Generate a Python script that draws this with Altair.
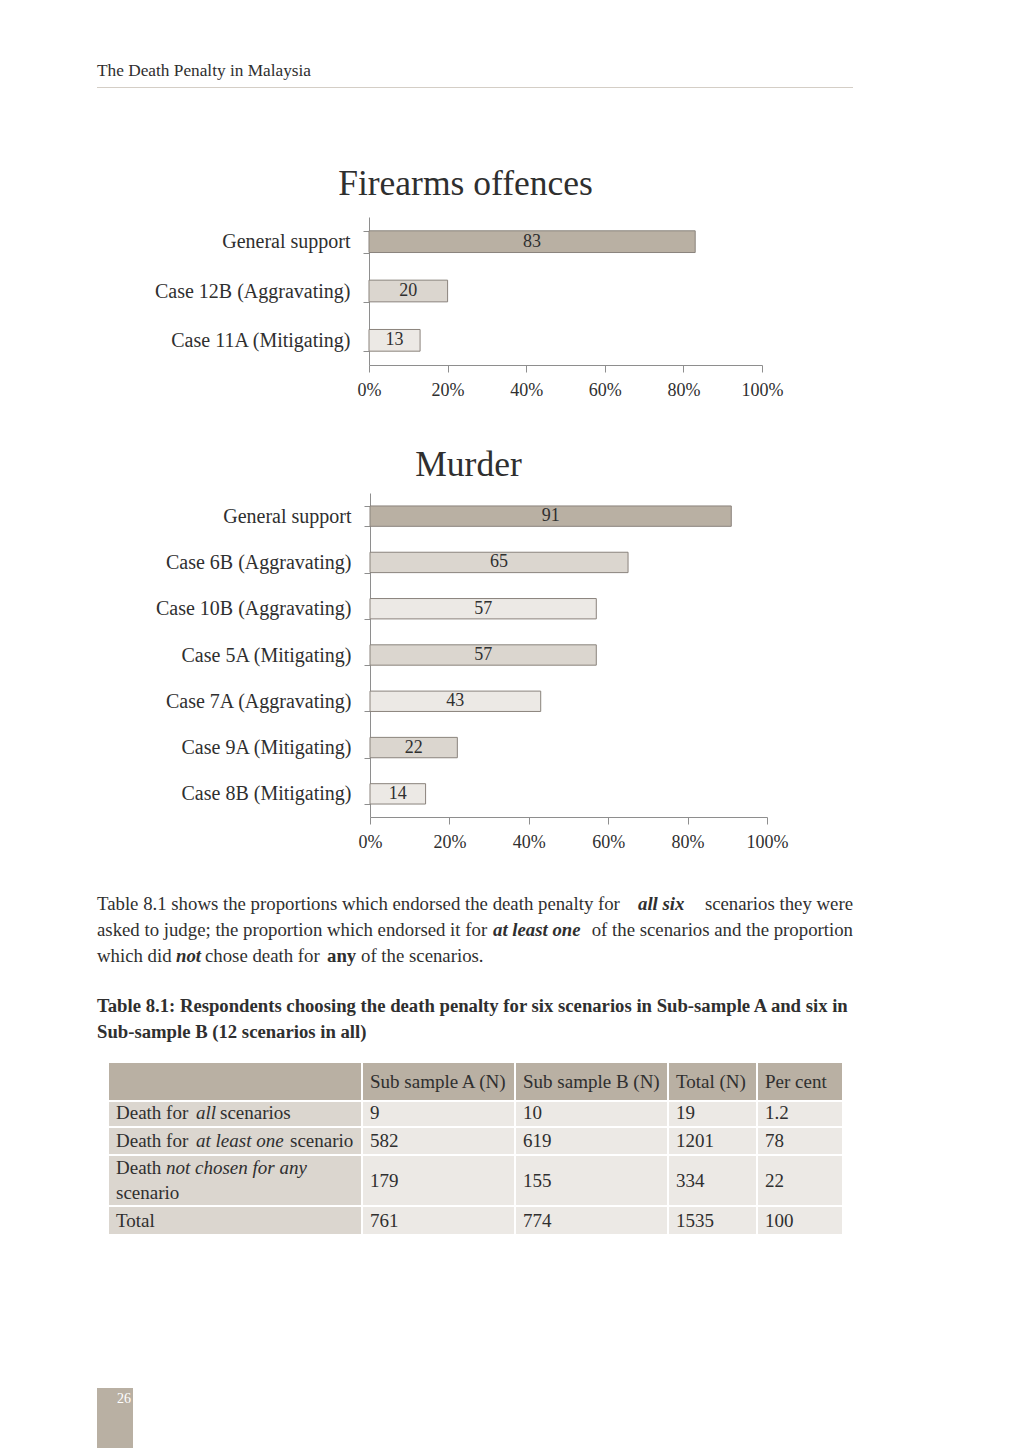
import altair as alt
import pandas as pd

FONT = "Liberation Serif"
TXT = "#2f2f2f"
AX = "#8e8e8e"
STROKE = "#8a837c"
W = 1008

# ---------------- data ----------------
firearms_cats = ["General support", "Case 12B (Aggravating)", "Case 11A (Mitigating)"]
firearms_vals = [83, 20, 13]
firearms_shade = ["dark", "mid", "light"]

murder_cats = ["General support", "Case 6B (Aggravating)", "Case 10B (Aggravating)",
               "Case 5A (Mitigating)", "Case 7A (Aggravating)", "Case 9A (Mitigating)",
               "Case 8B (Mitigating)"]
murder_vals = [91, 65, 57, 57, 43, 22, 14]
murder_shade = ["dark", "mid", "light", "mid", "light", "mid", "light"]

x_ticks = [0, 20, 40, 60, 80, 100]
shade_names = ["dark", "mid", "light"]
shade_colors = ["#b9b0a3", "#dbd6cf", "#ece9e5"]

table_headers = ["", "Sub sample A (N)", "Sub sample B (N)", "Total (N)", "Per cent"]
table_sub_a = ["9", "582", "179", "761"]
table_sub_b = ["10", "619", "155", "774"]
table_total = ["19", "1201", "334", "1535"]
table_percent = ["1.2", "78", "22", "100"]


# ---------------- helpers ----------------
def blank(w, h):
    return alt.Chart(pd.DataFrame({"v": [0]})).mark_point(opacity=0).encode(
        x=alt.X("v:Q", axis=None), y=alt.Y("v:Q", axis=None)
    ).properties(width=w, height=h)


def bar_panel(cats, vals, shades, title, w, h, title_offset, title_dx):
    df = pd.DataFrame({"cat": cats, "val": vals, "shade": shades})
    base = alt.Chart(df)
    y_axis = alt.Axis(tickBand="extent", domainColor=AX, tickColor=AX, tickSize=6,
                      labelFont=FONT, labelFontSize=20, labelColor=TXT,
                      labelPadding=13, labelLimit=400, grid=False)
    x_axis = alt.Axis(values=x_ticks, labelExpr="datum.value + '%'", grid=False,
                      domainColor=AX, tickColor=AX, tickSize=7, labelFont=FONT,
                      labelFontSize=18, labelColor=TXT, labelPadding=9, labelFlush=False)
    yscale = alt.Scale(paddingInner=0.56, paddingOuter=0.28)
    bars = base.mark_bar(stroke=STROKE, strokeWidth=1).encode(
        x=alt.X("val:Q", title=None, scale=alt.Scale(domain=[0, 100], nice=False), axis=x_axis),
        y=alt.Y("cat:N", sort=cats, title=None, scale=yscale, axis=y_axis),
        color=alt.Color("shade:N", scale=alt.Scale(domain=shade_names, range=shade_colors), legend=None),
    )
    labels = base.transform_calculate(mid="datum.val / 2").mark_text(
        font=FONT, fontSize=18, color=TXT, baseline="middle"
    ).encode(
        x=alt.X("mid:Q", title=None),
        y=alt.Y("cat:N", sort=cats, title=None),
        text=alt.Text("val:Q"),
    )
    return alt.layer(bars, labels).properties(
        width=w, height=h,
        title=alt.TitleParams(title, font=FONT, fontSize=35.5, fontWeight="normal",
                              color=TXT, offset=title_offset, dx=title_dx, anchor="middle"),
    )


# ---------------- header panel ----------------
header_text = alt.Chart(pd.DataFrame({"t": ["The Death Penalty in Malaysia"]})).mark_text(
    align="left", baseline="alphabetic", font=FONT, fontSize=17.3, color=TXT
).encode(x=alt.value(89), y=alt.value(68), text="t:N")
header_rule = alt.Chart(pd.DataFrame({"a": [0]})).mark_rule(color="#d4cec6", strokeWidth=1).encode(
    x=alt.value(89), x2=alt.value(845), y=alt.value(79.5)
)
header_panel = alt.layer(header_text, header_rule).properties(width=W, height=209)

# ---------------- chart rows ----------------
firearms = bar_panel(firearms_cats, firearms_vals, firearms_shade, "Firearms offences",
                     393, 148, 5, -100)
murder = bar_panel(murder_cats, murder_vals, murder_shade, "Murder", 397, 324, 0, -100)
# nested rows occupy no height in a flush layout; the blank panels below hold their space
row_firearms = alt.hconcat(blank(361, 148), firearms, spacing=0, bounds="flush")
row_murder = alt.hconcat(blank(362, 324), murder, spacing=0, bounds="flush")
gap_after_firearms = blank(W, 148 + 128)
gap_after_murder = blank(W, 324)

# ---------------- bottom panel (text + table) ----------------
BH = 631
OY = 817  # page y of panel top
OX = 8

styles = {
    "p": dict(fontSize=18.8, fontWeight="normal", fontStyle="normal"),
    "pbi": dict(fontSize=18.8, fontWeight="bold", fontStyle="italic"),
    "pb": dict(fontSize=18.8, fontWeight="bold", fontStyle="normal"),
    "h": dict(fontSize=18.7, fontWeight="bold", fontStyle="normal"),
    "t": dict(fontSize=19, fontWeight="normal", fontStyle="normal"),
    "ti": dict(fontSize=19, fontWeight="normal", fontStyle="italic"),
}

# text segments: (text, page_x, page_y_baseline, style, align)
segments = [
    ("Table 8.1 shows the proportions which endorsed the death penalty for", 97, 910, "p", "left"),
    ("all six", 638, 910, "pbi", "left"),
    ("scenarios they were", 853, 910, "p", "right"),
    ("asked to judge; the proportion which endorsed it for", 97, 936, "p", "left"),
    ("at least one", 493, 936, "pbi", "left"),
    ("of the scenarios and the proportion", 853, 936, "p", "right"),
    ("which did", 97, 962, "p", "left"),
    ("not", 176, 962, "pbi", "left"),
    ("chose death for", 205, 962, "p", "left"),
    ("any", 327, 962, "pb", "left"),
    ("of the scenarios.", 361, 962, "p", "left"),
    ("Table 8.1: Respondents choosing the death penalty for six scenarios in Sub-sample A and six in",
     97, 1012, "h", "left"),
    ("Sub-sample B (12 scenarios in all)", 97, 1038, "h", "left"),
    # table row labels
    ("Death for", 116, 1119, "t", "left"),
    ("all", 196, 1119, "ti", "left"),
    ("scenarios", 220, 1119, "t", "left"),
    ("Death for", 116, 1147, "t", "left"),
    ("at least one", 196, 1147, "ti", "left"),
    ("scenario", 290, 1147, "t", "left"),
    ("Death", 116, 1174, "t", "left"),
    ("not chosen for any", 166, 1174, "ti", "left"),
    ("scenario", 116, 1199, "t", "left"),
    ("Total", 116, 1227, "t", "left"),
]

# table layout
col_edges = [(109, 361), (363, 514), (516, 667), (669, 756), (758, 842)]
row_edges = [(1063, 1100), (1102, 1126), (1128, 1154), (1156, 1205), (1207, 1234)]
value_baselines = [1119, 1147, 1187, 1227]
header_baseline = 1088

for ci, name in enumerate(table_headers):
    if name:
        segments.append((name, col_edges[ci][0] + 7, header_baseline, "t", "left"))
for ri in range(4):
    for ci, col in enumerate([table_sub_a, table_sub_b, table_total, table_percent], start=1):
        segments.append((col[ri], col_edges[ci][0] + 7, value_baselines[ri], "t", "left"))

cells = []
for ri, (y0, y1) in enumerate(row_edges):
    for ci, (x0, x1) in enumerate(col_edges):
        kind = "head" if ri == 0 else ("first" if ci == 0 else "cell")
        cells.append(dict(x=x0 - OX, x2=x1 - OX, y=y0 - OY, y2=y1 - OY, kind=kind))
cells.append(dict(x=97 - OX, x2=133 - OX, y=1388 - OY, y2=BH, kind="page"))
cells_df = pd.DataFrame(cells)

XS = alt.Scale(domain=[0, W], nice=False, zero=False)
YS = alt.Scale(domain=[0, BH], nice=False, zero=False, reverse=True)

rects = alt.Chart(cells_df).mark_rect().encode(
    x=alt.X("x:Q", scale=XS, axis=None), x2="x2:Q",
    y=alt.Y("y:Q", scale=YS, axis=None), y2="y2:Q",
    color=alt.Color("kind:N", scale=alt.Scale(
        domain=["head", "first", "cell", "page"],
        range=["#bfb6aa", "#e2ddd7", "#ebe8e4", "#cac3b9"]), legend=None),
)

seg_df = pd.DataFrame(segments, columns=["text", "px", "py", "style", "align"])
seg_df["x"] = seg_df["px"] - OX
seg_df["y"] = seg_df["py"] - OY

layers = [rects]
for (st, al), grp in seg_df.groupby(["style", "align"]):
    s = styles[st]
    layers.append(
        alt.Chart(grp[["x", "y", "text"]]).mark_text(
            align=al, baseline="alphabetic", font=FONT, color=TXT, **s
        ).encode(
            x=alt.X("x:Q", scale=XS, axis=None),
            y=alt.Y("y:Q", scale=YS, axis=None),
            text="text:N",
        )
    )

page_num = alt.Chart(pd.DataFrame({"x": [131 - OX], "y": [1403 - OY], "t": ["26"]})).mark_text(
    align="right", baseline="alphabetic", font=FONT, fontSize=14, color="white"
).encode(x=alt.X("x:Q", scale=XS, axis=None), y=alt.Y("y:Q", scale=YS, axis=None), text="t:N")
layers.append(page_num)

bottom_panel = alt.layer(*layers).properties(width=W, height=BH)

chart = alt.vconcat(
    header_panel, row_firearms, gap_after_firearms, row_murder, gap_after_murder, bottom_panel,
    spacing=0, bounds="flush"
).properties(padding=0).configure_view(stroke=None).configure_concat(spacing=0)

chart.save("out.html", embed_options={"renderer": "svg", "actions": False})
